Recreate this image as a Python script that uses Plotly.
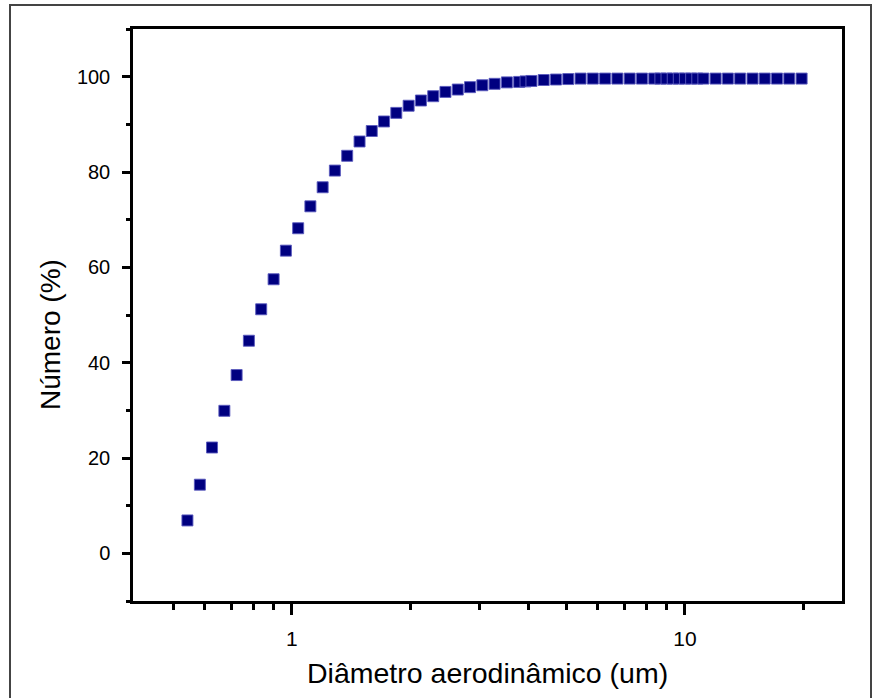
import numpy as np
import plotly.graph_objects as go

# Aerodynamic diameter (um) and cumulative number (%)
diam = [0.542, 0.583, 0.626, 0.673, 0.723, 0.777, 0.835, 0.898, 0.965, 1.037,
        1.114, 1.197, 1.286, 1.382, 1.486, 1.596, 1.715, 1.843, 1.981, 2.129,
        2.288, 2.458, 2.642, 2.839, 3.051, 3.278, 3.523, 3.786, 3.93, 4.068,
        4.371, 4.698, 5.048, 5.425, 5.829, 6.264, 6.732, 7.234, 7.774, 8.354,
        8.66, 8.977, 9.31, 9.647, 10.0, 10.37, 10.75, 11.14, 11.97, 12.86,
        13.82, 14.86, 15.96, 17.15, 18.43, 19.81]
numero = [6.9, 14.4, 22.2, 29.9, 37.4, 44.6, 51.2, 57.5, 63.5, 68.2,
          72.8, 76.8, 80.3, 83.4, 86.4, 88.6, 90.6, 92.4, 93.9, 95.0,
          95.9, 96.8, 97.3, 97.8, 98.2, 98.5, 98.8, 98.9, 99.0, 99.1,
          99.3, 99.4, 99.5, 99.6, 99.6, 99.6, 99.6, 99.6, 99.6, 99.6,
          99.6, 99.6, 99.6, 99.6, 99.6, 99.6, 99.6, 99.6, 99.6, 99.6,
          99.6, 99.6, 99.6, 99.6, 99.6, 99.6]

x_major = [1, 10]
x_minor = [0.5, 0.6, 0.7, 0.8, 0.9, 2, 3, 4, 5, 6, 7, 8, 9, 20]
y_major = [0, 20, 40, 60, 80, 100]
y_minor = [-10, 10, 30, 50, 70, 90, 110]

FONT = "Arial, Liberation Sans, sans-serif"

fig = go.Figure()
fig.add_trace(go.Scatter(
    x=diam, y=numero, mode="markers",
    marker=dict(symbol="square", size=11, color="#000080",
                line=dict(color="rgba(90,90,190,0.9)", width=1)),
    showlegend=False, cliponaxis=False,
))

L, R, T, B = 133, 31, 29, 97
W, H = 873, 698
pw, ph = W - L - R, H - T - B

fig.update_layout(
    width=W, height=H,
    margin=dict(l=L, r=R, t=T, b=B),
    paper_bgcolor="white", plot_bgcolor="white",
    font=dict(family=FONT, size=20, color="black"),
    xaxis=dict(
        type="log", range=[np.log10(0.394), np.log10(25.1)],
        tickmode="array", tickvals=x_major, ticktext=["1", "10"],
        ticks="outside", ticklen=11, tickwidth=2.5, tickcolor="black",
        minor=dict(tickmode="array", tickvals=x_minor, ticks="outside",
                   ticklen=6, tickwidth=2.5, tickcolor="black"),
        showline=True, linecolor="black", linewidth=2.5, mirror=True,
        showgrid=False, zeroline=False,
        tickfont=dict(family=FONT, size=21, color="black"),
        ticklabelstandoff=6,
    ),
    yaxis=dict(
        range=[-10, 110],
        tickmode="array", tickvals=y_major,
        ticks="outside", ticklen=8, tickwidth=2.5, tickcolor="black",
        minor=dict(tickmode="array", tickvals=y_minor, ticks="outside",
                   ticklen=4, tickwidth=2.5, tickcolor="black"),
        showline=True, linecolor="black", linewidth=2.5, mirror=True,
        showgrid=False, zeroline=False,
        tickfont=dict(family=FONT, size=20, color="black"),
        ticklabelstandoff=8,
    ),
    annotations=[
        dict(text="Diâmetro aerodinâmico (um)", xref="paper", yref="paper",
             x=0.5, y=(601 - 673) / ph, xanchor="center", yanchor="middle",
             showarrow=False, font=dict(family=FONT, size=28.5, color="black")),
        dict(text="Número (%)", xref="paper", yref="paper",
             x=(50 - L) / pw, y=(601 - 335) / ph, xanchor="center", yanchor="middle",
             textangle=-90, showarrow=False,
             font=dict(family=FONT, size=28, color="black")),
    ],
    shapes=[
        dict(type="rect", xref="paper", yref="paper",
             x0=(10 - L) / pw, x1=(871 - L) / pw,
             y0=(601 - 705) / ph, y1=(601 - 5) / ph,
             line=dict(color="#444444", width=2), layer="below"),
    ],
)

fig.write_html("out.html")
